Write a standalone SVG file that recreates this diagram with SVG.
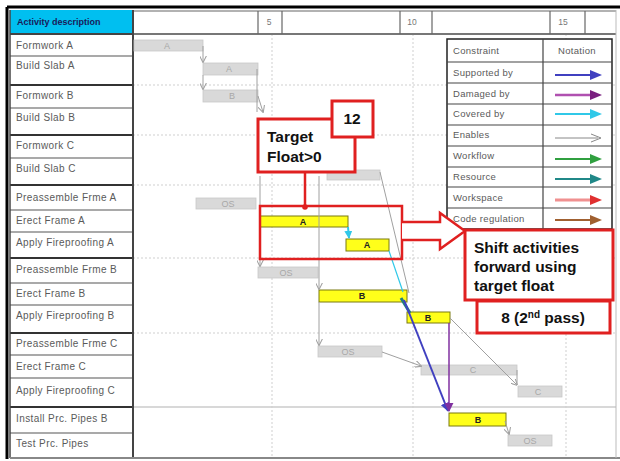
<svg xmlns="http://www.w3.org/2000/svg" width="620" height="461" viewBox="0 0 620 461">
  <defs>
    <style>
      .lbl { font-family: "Liberation Sans", Arial, sans-serif; font-size: 10px; letter-spacing: 0.4px; fill: #5a5a5a; }
      .hdr { font-family: "Liberation Sans", Arial, sans-serif; font-size: 9px; font-weight: bold; fill: #1a1a5a; }
      .num { font-family: "Liberation Sans", Arial, sans-serif; font-size: 8.5px; fill: #777; text-anchor: middle; }
      .row { stroke: #555; stroke-width: 1.2; }
      .grp { stroke: #333; stroke-width: 2.2; }
      .grid { stroke: #cfcfcf; stroke-width: 1; stroke-dasharray: 2 2; }
      .gbar { fill: #d9d9d9; stroke: #c8c8c8; stroke-width: 0.8; }
      .gtxt { font-family: "Liberation Sans", Arial, sans-serif; font-size: 9px; fill: #a8a8a8; text-anchor: middle; }
      .ybar { fill: #ffff1a; stroke: #7a7a10; stroke-width: 1; }
      .ytxt { font-family: "Liberation Sans", Arial, sans-serif; font-size: 9px; font-weight: bold; fill: #222; text-anchor: middle; }
      .gline { stroke: #a0a0a0; stroke-width: 1; fill: none; }
      .redbox { fill: #fff; stroke: #e02020; stroke-width: 3; }
      .big { font-family: "Liberation Sans", Arial, sans-serif; font-size: 15.5px; font-weight: bold; fill: #111; }
      .leg { font-family: "Liberation Sans", Arial, sans-serif; font-size: 9.5px; letter-spacing: 0.3px; fill: #5a5a5a; }
      .legline { stroke: #444; stroke-width: 1.2; }
    </style>
    <marker id="ah-gray" viewBox="0 0 10 10" refX="9" refY="5" markerWidth="7" markerHeight="7" orient="auto-start-reverse" markerUnits="userSpaceOnUse">
      <path d="M0,0 L10,5 L0,10" fill="none" stroke="#a0a0a0" stroke-width="1.5"/>
    </marker>
    <marker id="ah-blue" viewBox="0 0 10 10" refX="9" refY="5" markerWidth="9" markerHeight="9" orient="auto" markerUnits="userSpaceOnUse">
      <path d="M0,0 L10,5 L0,10 Z" fill="#4040c0"/>
    </marker>
    <marker id="ah-purple" viewBox="0 0 10 10" refX="9" refY="5" markerWidth="9" markerHeight="9" orient="auto" markerUnits="userSpaceOnUse">
      <path d="M0,0 L10,5 L0,10 Z" fill="#8030a0"/>
    </marker>
    <marker id="ah-cyan" viewBox="0 0 10 10" refX="9" refY="5" markerWidth="8" markerHeight="8" orient="auto" markerUnits="userSpaceOnUse">
      <path d="M0,0 L10,5 L0,10 Z" fill="#30c8e8"/>
    </marker>
    <marker id="ah-red" viewBox="0 0 10 10" refX="5" refY="5" markerWidth="7" markerHeight="7" orient="auto" markerUnits="userSpaceOnUse">
      <circle cx="5" cy="5" r="4" fill="#e02020"/>
    </marker>
  </defs>

  <rect x="0" y="0" width="620" height="461" fill="#fff"/>

  <!-- chart grid -->
  <g id="grid">
    <line class="grid" x1="133" y1="85" x2="616" y2="85"/>
    <line class="grid" x1="133" y1="135" x2="616" y2="135"/>
    <line class="grid" x1="133" y1="185" x2="616" y2="185"/>
    <line class="grid" x1="133" y1="258" x2="616" y2="258"/>
    <line class="grid" x1="133" y1="333" x2="616" y2="333"/>
    <line x1="133" y1="407" x2="616" y2="407" stroke="#d8d8d8" stroke-width="2"/>
    <line class="grid" x1="272" y1="34" x2="272" y2="458"/>
    <line class="grid" x1="413" y1="34" x2="413" y2="458"/>
    <line class="grid" x1="566" y1="34" x2="566" y2="458"/>
  </g>

  <!-- time-scale header -->
  <g id="timescale">
    <line x1="133" y1="11" x2="616" y2="11" stroke="#999" stroke-width="1.5"/>
    <line x1="133" y1="34" x2="616" y2="34" stroke="#777" stroke-width="2"/>
    <line x1="258" y1="11" x2="258" y2="34" stroke="#666" stroke-width="1.2"/>
    <line x1="282" y1="11" x2="282" y2="34" stroke="#666" stroke-width="1.2"/>
    <line x1="400" y1="11" x2="400" y2="34" stroke="#666" stroke-width="1.2"/>
    <line x1="432" y1="11" x2="432" y2="34" stroke="#666" stroke-width="1.2"/>
    <line x1="550" y1="11" x2="550" y2="34" stroke="#666" stroke-width="1.2"/>
    <line x1="585" y1="11" x2="585" y2="34" stroke="#666" stroke-width="1.2"/>
    <text class="num" x="269" y="25">5</text>
    <text class="num" x="412" y="25">10</text>
    <text class="num" x="563" y="25">15</text>
  </g>

  <!-- activity column -->
  <g id="activity-list">
    <rect x="10" y="10" width="123" height="24" fill="#00bff0"/>
    <text class="hdr" x="17" y="25">Activity description</text>
    <line class="row" x1="10" y1="56" x2="133" y2="56"/>
    <line class="grp" x1="10" y1="85" x2="133" y2="85"/>
    <line class="row" x1="10" y1="108" x2="133" y2="108"/>
    <line class="grp" x1="10" y1="135" x2="133" y2="135"/>
    <line class="row" x1="10" y1="158" x2="133" y2="158"/>
    <line class="grp" x1="10" y1="185" x2="133" y2="185"/>
    <line class="row" x1="10" y1="210" x2="133" y2="210"/>
    <line class="row" x1="10" y1="232" x2="133" y2="232"/>
    <line class="grp" x1="10" y1="258" x2="133" y2="258"/>
    <line class="row" x1="10" y1="283" x2="133" y2="283"/>
    <line class="row" x1="10" y1="305" x2="133" y2="305"/>
    <line class="grp" x1="10" y1="333" x2="133" y2="333"/>
    <line class="row" x1="10" y1="355" x2="133" y2="355"/>
    <line class="row" x1="10" y1="378" x2="133" y2="378"/>
    <line class="grp" x1="10" y1="407" x2="133" y2="407"/>
    <line class="row" x1="10" y1="433" x2="133" y2="433"/>
    <line x1="10" y1="34" x2="133" y2="34" stroke="#444" stroke-width="2"/>
    <line x1="10" y1="10" x2="10" y2="458" stroke="#444" stroke-width="1.5"/>
    <line x1="133" y1="10" x2="133" y2="458" stroke="#444" stroke-width="2"/>
    <text class="lbl" x="16" y="49">Formwork A</text>
    <text class="lbl" x="16" y="69">Build Slab A</text>
    <text class="lbl" x="16" y="99">Formwork B</text>
    <text class="lbl" x="16" y="121">Build Slab B</text>
    <text class="lbl" x="16" y="149">Formwork C</text>
    <text class="lbl" x="16" y="172">Build Slab C</text>
    <text class="lbl" x="16" y="201">Preassemble Frme A</text>
    <text class="lbl" x="16" y="224">Erect Frame A</text>
    <text class="lbl" x="16" y="246">Apply Fireproofing A</text>
    <text class="lbl" x="16" y="273">Preassemble Frme B</text>
    <text class="lbl" x="16" y="297">Erect Frame B</text>
    <text class="lbl" x="16" y="319">Apply Fireproofing B</text>
    <text class="lbl" x="16" y="347">Preassemble Frme C</text>
    <text class="lbl" x="16" y="370">Erect Frame C</text>
    <text class="lbl" x="16" y="394">Apply Fireproofing C</text>
    <text class="lbl" x="16" y="422">Install Prc. Pipes B</text>
    <text class="lbl" x="16" y="447">Test Prc. Pipes</text>
  </g>

  <!-- outer frame -->
  <g id="frame">
    <line x1="7" y1="7" x2="620" y2="7" stroke="#000" stroke-width="3"/>
    <line x1="7" y1="7" x2="7" y2="459" stroke="#000" stroke-width="3"/>
    <line x1="10" y1="458" x2="620" y2="458" stroke="#888" stroke-width="2"/>
    <line x1="616" y1="10" x2="616" y2="458" stroke="#bbb" stroke-width="1"/>
  </g>

  <!-- schedule bars -->
  <g id="bar-formwork-a"><rect class="gbar" x="134" y="40" width="69" height="11"/><text class="gtxt" x="167" y="49">A</text></g>
  <g id="bar-build-slab-a"><rect class="gbar" x="203" y="63" width="55" height="12"/><text class="gtxt" x="229" y="72">A</text></g>
  <g id="bar-formwork-b"><rect class="gbar" x="203" y="90" width="55" height="12"/><text class="gtxt" x="232" y="99">B</text></g>
  <g id="bar-build-slab-c"><rect class="gbar" x="327" y="170" width="53" height="10"/></g>
  <g id="bar-preassemble-a"><rect class="gbar" x="196" y="198" width="60" height="11"/><text class="gtxt" x="228" y="207">OS</text></g>
  <g id="bar-preassemble-b"><rect class="gbar" x="258" y="267" width="60" height="11"/><text class="gtxt" x="286" y="276">OS</text></g>
  <g id="bar-preassemble-c"><rect class="gbar" x="318" y="346" width="64" height="11"/><text class="gtxt" x="348" y="355">OS</text></g>
  <g id="bar-erect-c"><rect class="gbar" x="421" y="365" width="96" height="10"/><text class="gtxt" x="473" y="373">C</text></g>
  <g id="bar-fireproof-c"><rect class="gbar" x="518" y="386" width="44" height="11"/><text class="gtxt" x="538" y="395">C</text></g>
  <g id="bar-test-pipes"><rect class="gbar" x="508" y="435" width="44" height="11"/><text class="gtxt" x="530" y="444">OS</text></g>

  <g id="bar-erect-a"><rect class="ybar" x="260" y="216" width="88" height="11"/><text class="ytxt" x="303" y="225">A</text></g>
  <g id="bar-fireproof-a"><rect class="ybar" x="346" y="239" width="43" height="12"/><text class="ytxt" x="367" y="248">A</text></g>
  <g id="bar-erect-b"><rect class="ybar" x="319" y="290" width="88" height="12"/><text class="ytxt" x="362" y="299">B</text></g>
  <g id="bar-fireproof-b"><rect class="ybar" x="407" y="312" width="43" height="11"/><text class="ytxt" x="428" y="321">B</text></g>
  <g id="bar-install-pipes"><rect class="ybar" x="449" y="413" width="57" height="13"/><text class="ytxt" x="478" y="423">B</text></g>

  <!-- connectors -->
  <g id="connectors">
    <path class="gline" d="M203,46 L203,62" marker-end="url(#ah-gray)"/>
    <path class="gline" d="M203,75 L203,89" marker-end="url(#ah-gray)"/>
    <path class="gline" d="M257,69 L257,112"/>
    <path class="gline" d="M258,96 L263,112" marker-end="url(#ah-gray)"/>
    <path class="gline" d="M260,176 L260,266" marker-end="url(#ah-gray)"/>
    <path class="gline" d="M319,176 L319,289" marker-end="url(#ah-gray)"/>
    <path class="gline" d="M380,172 L409,293"/>
    <path class="gline" d="M319,302 L319,345" marker-end="url(#ah-gray)"/>
    <path class="gline" d="M382,352 L421,366" marker-end="url(#ah-gray)"/>
    <path class="gline" d="M450,318 L517,385" marker-end="url(#ah-gray)"/>
    <path class="gline" d="M517,370 L517,385"/>
    <path class="gline" d="M505,421 L509,434" marker-end="url(#ah-gray)"/>
    <path d="M348,227 L349,238" stroke="#30c8e8" stroke-width="2" fill="none" marker-end="url(#ah-cyan)"/>
    <path d="M389,251 L403,292" stroke="#30c8e8" stroke-width="1.2" fill="none"/>
    <path d="M401,298 L410,313" stroke="#208080" stroke-width="3" fill="none"/>
    <path d="M404,300 L448,411" stroke="#4040c0" stroke-width="2" fill="none" marker-end="url(#ah-blue)"/>
    <path d="M449,323 L449,411" stroke="#8030a0" stroke-width="1.5" fill="none" marker-end="url(#ah-purple)"/>
  </g>

  <!-- legend -->
  <g id="legend">
    <rect x="447" y="39" width="165" height="190" fill="#fff" stroke="#222" stroke-width="1.5"/>
    <line x1="543" y1="39" x2="543" y2="229" class="legline"/>
    <line x1="447" y1="62" x2="612" y2="62" class="legline"/>
    <line x1="447" y1="83" x2="612" y2="83" class="legline"/>
    <line x1="447" y1="104" x2="612" y2="104" class="legline"/>
    <line x1="447" y1="125" x2="612" y2="125" class="legline"/>
    <line x1="447" y1="146" x2="612" y2="146" class="legline"/>
    <line x1="447" y1="167" x2="612" y2="167" class="legline"/>
    <line x1="447" y1="187" x2="612" y2="187" class="legline"/>
    <line x1="447" y1="208" x2="612" y2="208" class="legline"/>
    <text class="leg" x="453" y="54">Constraint</text>
    <text class="leg" x="577" y="54" text-anchor="middle">Notation</text>
    <text class="leg" x="453" y="76">Supported by</text>
    <text class="leg" x="453" y="97">Damaged by</text>
    <text class="leg" x="453" y="117">Covered by</text>
    <text class="leg" x="453" y="138">Enables</text>
    <text class="leg" x="453" y="159">Workflow</text>
    <text class="leg" x="453" y="180">Resource</text>
    <text class="leg" x="453" y="201">Workspace</text>
    <text class="leg" x="453" y="222">Code regulation</text>
    <g id="legend-arrows">
      <line x1="555" y1="75" x2="592" y2="75" stroke="#4040c0" stroke-width="2"/><path d="M590,70 L602,75 L590,80 Z" fill="#4040c0"/>
      <line x1="555" y1="95" x2="592" y2="95" stroke="#b050b0" stroke-width="2.5"/><path d="M590,90 L602,95 L590,100 Z" fill="#7a2080"/>
      <line x1="555" y1="114" x2="592" y2="114" stroke="#30c8e8" stroke-width="2"/><path d="M590,109 L602,114 L590,119 Z" fill="#30c8e8"/>
      <line x1="555" y1="138" x2="598" y2="138" stroke="#888" stroke-width="1"/><path d="M591,134 L601,138 L591,142" fill="none" stroke="#888" stroke-width="1"/>
      <line x1="555" y1="159" x2="592" y2="159" stroke="#30a040" stroke-width="2"/><path d="M590,154 L602,159 L590,164 Z" fill="#30a040"/>
      <line x1="555" y1="179" x2="592" y2="179" stroke="#208888" stroke-width="2"/><path d="M590,174 L602,179 L590,184 Z" fill="#208888"/>
      <line x1="555" y1="200" x2="592" y2="200" stroke="#f09090" stroke-width="3"/><path d="M590,195 L602,200 L590,205 Z" fill="#e03030"/>
      <line x1="555" y1="220" x2="592" y2="220" stroke="#a06030" stroke-width="2"/><path d="M590,215 L602,220 L590,225 Z" fill="#a06030"/>
    </g>
  </g>

  <!-- callouts -->
  <g id="target-float">
    <rect class="redbox" x="258" y="119" width="97" height="53"/>
    <text class="big" x="267" y="142" font-size="16">Target</text>
    <text class="big" x="267" y="162" font-size="16">Float&gt;0</text>
  </g>
  <g id="float-value">
    <rect class="redbox" x="332" y="101" width="41" height="36"/>
    <text class="big" x="352" y="124" text-anchor="middle">12</text>
  </g>
  <g id="target-link">
    <path d="M305,172 L305,207" stroke="#e02020" stroke-width="2.5" fill="none" marker-end="url(#ah-red)"/>
  </g>
  <g id="shift-region">
    <rect x="260" y="206" width="142" height="53" fill="none" stroke="#e02020" stroke-width="2.5"/>
    <path d="M402,222 L440,222 L440,213 L465,231 L440,249 L440,240 L402,240" fill="#fff" stroke="#e02020" stroke-width="2.5" stroke-linejoin="miter"/>
  </g>
  <g id="shift-note">
    <rect class="redbox" x="465" y="230" width="148" height="70"/>
    <text class="big" x="474" y="253">Shift activities</text>
    <text class="big" x="474" y="272">forward using</text>
    <text class="big" x="474" y="291">target float</text>
  </g>
  <g id="pass-note">
    <rect class="redbox" x="477" y="301" width="133" height="32"/>
    <text class="big" x="543" y="323" text-anchor="middle">8 (2<tspan font-size="10" dy="-5">nd</tspan><tspan dy="5"> pass)</tspan></text>
  </g>
</svg>
